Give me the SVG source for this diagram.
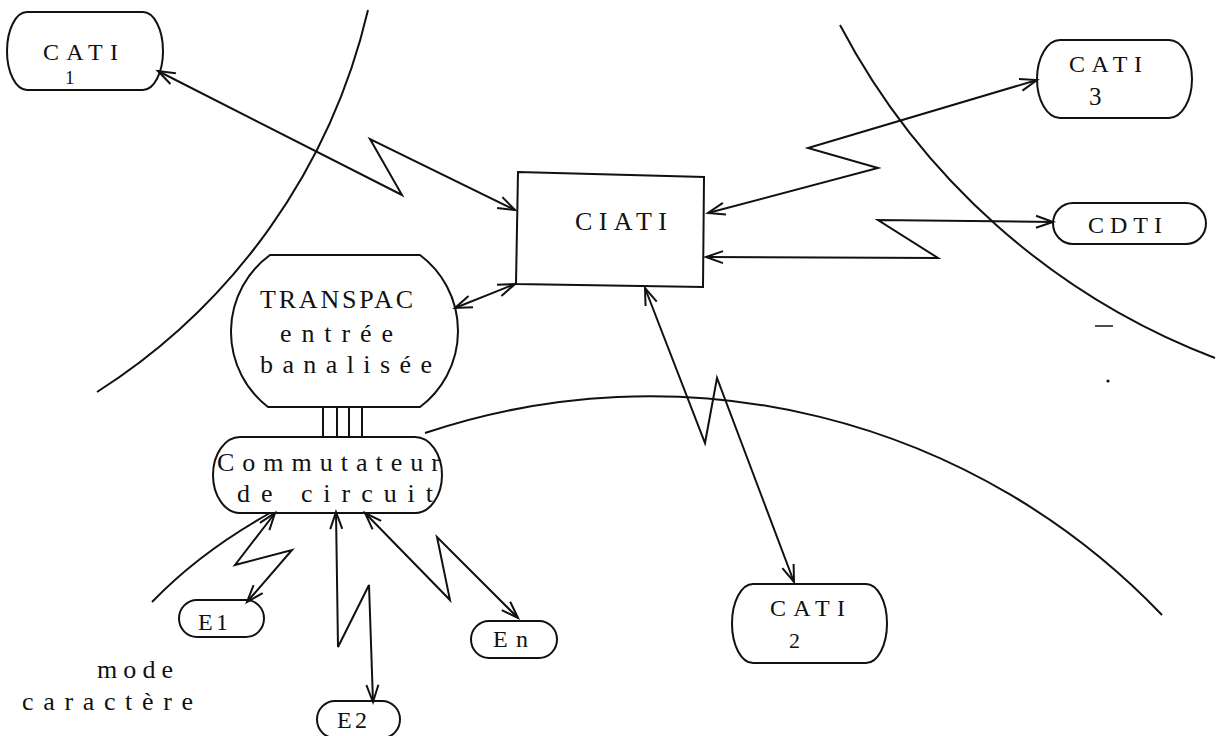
<svg xmlns="http://www.w3.org/2000/svg" width="1224" height="736" viewBox="0 0 1224 736">
  <style>
    .shape { fill: none; stroke: #111; stroke-width: 2; }
    .boundary { fill: none; stroke: #111; stroke-width: 2; }
    .conn { fill: none; stroke: #111; stroke-width: 2; stroke-linejoin: miter; marker-start: url(#arr); marker-end: url(#arr); }
    .bar { stroke: #111; stroke-width: 2; }
    text { font-family: "Liberation Serif", "Times New Roman", serif; fill: #111; }
    .lbl { font-size: 26px; }
    .small { font-size: 24px; }
  </style>
  <defs>
    <marker id="arr" viewBox="0 0 20 14" refX="19" refY="7" markerWidth="20" markerHeight="14" markerUnits="userSpaceOnUse" orient="auto-start-reverse" overflow="visible">
      <path d="M2,1 L19,7 L2,13" fill="none" stroke="#111" stroke-width="2"/>
    </marker>
  </defs>
  <rect width="1224" height="736" fill="#fff"/>

  <g id="boundaries">
    <path class="boundary" d="M368,10 A620,620 0 0,1 97,392"/>
    <path class="boundary" d="M840,25 A709,709 0 0,0 1215,358"/>
    <path class="boundary" d="M425,433 A708,708 0 0,1 1162,615"/>
    <path class="boundary" d="M152,602 Q200,552 270,513"/>
    <line x1="1095" y1="326" x2="1113" y2="326" stroke="#111" stroke-width="1.5"/>
    <circle cx="1108" cy="381" r="1.6" fill="#111"/>
  </g>

  <g id="connectors">
    <polyline class="conn" points="158,71 402,195 370,139 515,210"/>
    <polyline class="conn" points="708,213 878,168 808,148 1037,80"/>
    <polyline class="conn" points="1053,222 878,220 938,258 706,257"/>
    <polyline class="conn" points="645,288 705,443 717,378 794,582"/>
    <line class="conn" x1="455" y1="308" x2="515" y2="284"/>
    <polyline class="conn" points="275,513 235,565 292,550 247,602"/>
    <polyline class="conn" points="336,512 338,647 369,585 373,702"/>
    <polyline class="conn" points="365,513 450,600 437,537 518,618"/>
    <g id="trunk">
      <line class="bar" x1="323" y1="407" x2="323" y2="437"/>
      <line class="bar" x1="337" y1="407" x2="337" y2="437"/>
      <line class="bar" x1="349" y1="407" x2="349" y2="437"/>
      <line class="bar" x1="362" y1="407" x2="362" y2="437"/>
    </g>
  </g>

  <g id="cati1">
    <path class="shape" d="M27,12 H143 A20,39 0 0,1 143,90 H27 A20,39 0 0,1 27,12 Z"/>
    <text x="43" y="60" font-size="24" textLength="75" lengthAdjust="spacing">CATI</text>
    <text x="65" y="84" font-size="19">1</text>
  </g>

  <g id="cati3">
    <path class="shape" d="M1060,40 H1169 A23,39 0 0,1 1169,118 H1060 A23,39 0 0,1 1060,40 Z"/>
    <text x="1069" y="72" font-size="24" textLength="73" lengthAdjust="spacing">CATI</text>
    <text x="1089" y="105" font-size="25">3</text>
  </g>

  <g id="cdti">
    <path class="shape" d="M1073,203 H1186 A20,20.5 0 0,1 1186,244 H1073 A20,20.5 0 0,1 1073,203 Z"/>
    <text class="small" x="1088" y="233" textLength="74" lengthAdjust="spacing">CDTI</text>
  </g>

  <g id="ciati">
    <polygon class="shape" points="518,172 704,177 703,287 516,284"/>
    <text class="lbl" x="575" y="230" font-size="27" textLength="92" lengthAdjust="spacing">CIATI</text>
  </g>

  <g id="transpac">
    <path class="shape" d="M270,255 H420 A95,95 0 0,1 420,407 H268 A95,95 0 0,1 270,255 Z"/>
    <text class="lbl" x="260" y="308" textLength="153" lengthAdjust="spacing">TRANSPAC</text>
    <text class="lbl" x="280" y="342" textLength="113" lengthAdjust="spacing">entrée</text>
    <text class="lbl" x="260" y="373" textLength="172" lengthAdjust="spacing">banalisée</text>
  </g>

  <g id="commutateur">
    <path class="shape" d="M240,437 H415 A27,38 0 0,1 415,513 H240 A27,38 0 0,1 240,437 Z"/>
    <text class="lbl" x="217" y="471" textLength="223" lengthAdjust="spacing">Commutateur</text>
    <text class="lbl" x="237" y="502" textLength="196" lengthAdjust="spacing">de circuit</text>
  </g>

  <g id="cati2">
    <path class="shape" d="M753,584 H866 A21,39.5 0 0,1 866,663 H753 A21,39.5 0 0,1 753,584 Z"/>
    <text x="770" y="616" font-size="24" textLength="75" lengthAdjust="spacing">CATI</text>
    <text x="789" y="648" font-size="22">2</text>
  </g>

  <g id="e1">
    <path class="shape" d="M197,600 H246 A18,18.5 0 0,1 246,637 H197 A18,18.5 0 0,1 197,600 Z"/>
    <text class="small" x="198" y="630" textLength="30" lengthAdjust="spacing">E1</text>
  </g>

  <g id="e2">
    <path class="shape" d="M335,701 H382 A18,18.5 0 0,1 382,738 H335 A18,18.5 0 0,1 335,701 Z"/>
    <text class="small" x="337" y="728" textLength="30" lengthAdjust="spacing">E2</text>
  </g>

  <g id="en">
    <path class="shape" d="M489,621 H539 A18,18.5 0 0,1 539,658 H489 A18,18.5 0 0,1 489,621 Z"/>
    <text class="small" x="493" y="647" textLength="35" lengthAdjust="spacing">En</text>
  </g>

  <g id="mode-label">
    <text class="lbl" x="97" y="678" textLength="76" lengthAdjust="spacing">mode</text>
    <text class="lbl" x="22" y="710" textLength="171" lengthAdjust="spacing">caractère</text>
  </g>
</svg>
